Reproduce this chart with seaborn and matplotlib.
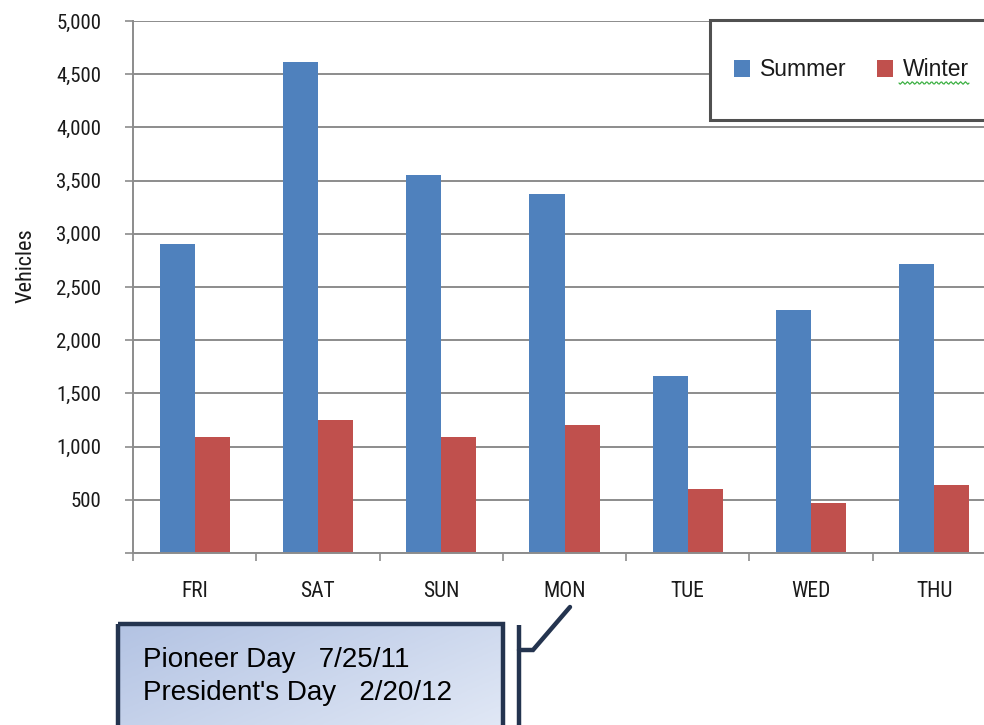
import numpy as np
import pandas as pd
import matplotlib
matplotlib.use("Agg")
import matplotlib.pyplot as plt
from matplotlib import font_manager
from matplotlib.patches import Rectangle
from matplotlib.ticker import FixedLocator, FuncFormatter
import seaborn as sns

# Daily vehicle counts for the holiday week, summer vs. winter
days = ["FRI", "SAT", "SUN", "MON", "TUE", "WED", "THU"]
summer = [2900, 4615, 3555, 3375, 1665, 2285, 2715]
winter = [1090, 1252, 1090, 1202, 602, 472, 635]
seasons = ["Summer", "Winter"]
season_colors = ["#4F81BD", "#C0504D"]
callout_lines = ["Pioneer Day   7/25/11", "President's Day   2/20/12"]

df = pd.DataFrame({
    "Day": days * 2,
    "Vehicles": summer + winter,
    "Season": [seasons[0]] * len(days) + [seasons[1]] * len(days),
})

sns.set_theme(style="white")


def pick_font(names):
    for n in names:
        try:
            font_manager.findfont(font_manager.FontProperties(family=n),
                                  fallback_to_default=False)
            return n
        except Exception:
            continue
    return "DejaVu Sans"


narrow = pick_font(["Liberation Sans Narrow", "Roboto Condensed", "Liberation Sans"])
regular = pick_font(["Liberation Sans", "Arial", "DejaVu Sans"])
plt.rcParams["font.family"] = [regular, "DejaVu Sans"]

W, H = 984, 725
fig = plt.figure(figsize=(W / 100, H / 100), dpi=100)
fig.patch.set_facecolor("white")

# plot area in pixel terms: left 133, right 996 (runs past the edge), top 21, bottom 553
ax = fig.add_axes([133 / W, 1 - 553 / H, (996 - 133) / W, (553 - 21) / H])

sns.barplot(data=df, x="Day", y="Vehicles", hue="Season", order=days,
            hue_order=seasons, palette=season_colors, saturation=1,
            width=0.57, gap=0, ax=ax, legend=True, errorbar=None,
            linewidth=0, edgecolor="none")

grid_c = "#8C8C8C"
ax.set_ylim(0, 5000)
ax.set_xlim(-0.5, len(days) - 0.5)
ax.set_yticks(np.arange(0, 5001, 500))
ax.yaxis.set_major_formatter(FuncFormatter(lambda v, p: "" if v == 0 else f"{int(v):,}"))
ax.grid(axis="y", color=grid_c, linewidth=1.4)
ax.set_axisbelow(True)
for s in ["top", "right"]:
    ax.spines[s].set_visible(False)
for s in ["left", "bottom"]:
    ax.spines[s].set_color(grid_c)
    ax.spines[s].set_linewidth(1.4)

ax.tick_params(axis="y", which="major", direction="out", length=6, width=1.2,
               color=grid_c, pad=17, left=True, labelsize=15, labelcolor="#1a1a1a")
ax.tick_params(axis="x", which="major", length=0, pad=20, labelsize=15.5,
               labelcolor="#1a1a1a")
ax.xaxis.set_minor_locator(FixedLocator(np.arange(-0.5, len(days), 1.0)))
ax.tick_params(axis="x", which="minor", direction="out", length=6, width=1.2,
               color=grid_c, bottom=True)
for lab in ax.get_xticklabels() + ax.get_yticklabels():
    lab.set_fontfamily([narrow, "DejaVu Sans"])

ax.set_xlabel("")
ax.set_ylabel("")
fig.text(26 / W, 1 - 266 / H, "Vehicles", rotation=90, ha="center", va="center",
         fontsize=16, family=[narrow, "DejaVu Sans"], color="#1a1a1a")

# overlay in pixel coordinates for the legend frame and the callout
ov = fig.add_axes([0, 0, 1, 1], zorder=5)
ov.set_xlim(0, W)
ov.set_ylim(H, 0)
ov.axis("off")
ov.patch.set_alpha(0)

ov.add_patch(Rectangle((710, 20), 300, 100, facecolor="white",
                       edgecolor="#505050", linewidth=2.2, zorder=1))

handles, labels = ax.get_legend_handles_labels()
ax.get_legend().remove()
leg = fig.legend(handles, labels, loc="center left",
                 bbox_to_anchor=(734 / W, 1 - 70 / H), ncol=2, frameon=False,
                 fontsize=16.5, handlelength=0.7, handleheight=0.7,
                 handletextpad=0.45, columnspacing=1.3, borderpad=0,
                 borderaxespad=0)
leg.set_zorder(10)
for t in leg.get_texts():
    t.set_color("#1a1a1a")

# spell-check squiggle under the legend's second entry
xs = np.linspace(899, 969, 60)
ov.plot(xs, 83 + 1.2 * np.sin((xs - 899) * 1.3), color="#3cb043", lw=0.9, zorder=11)

# callout box with a soft blue gradient
bx0, by0, bx1, by1 = 118, 624, 503, 735
grad = np.linspace(0, 1, 256)[None, :] * 0.6 + np.linspace(0, 1, 64)[:, None] * 0.4
cmap = matplotlib.colors.LinearSegmentedColormap.from_list("cb", ["#B3C3E3", "#E2E9F6"])
ov.imshow(grad, extent=(bx0, bx1, by1, by0), cmap=cmap, aspect="auto", zorder=2)
navy = "#24344F"
ov.add_patch(Rectangle((bx0, by0), bx1 - bx0, by1 - by0, facecolor="none",
                       edgecolor=navy, linewidth=3.2, zorder=3))
ov.text(143, 660, callout_lines[0], fontsize=20, color="black", va="center",
        ha="left", zorder=4)
ov.text(143, 693, callout_lines[1], fontsize=20, color="black", va="center",
        ha="left", zorder=4)
ov.plot([519, 519], [625, 730], color=navy, lw=3.2, solid_capstyle="butt", zorder=4)
ov.plot([519, 533, 570], [650, 650, 607], color=navy, lw=3.2,
        solid_joinstyle="miter", zorder=4)
ov.set_xlim(0, W)
ov.set_ylim(H, 0)

fig.savefig("out.png", dpi=100)
